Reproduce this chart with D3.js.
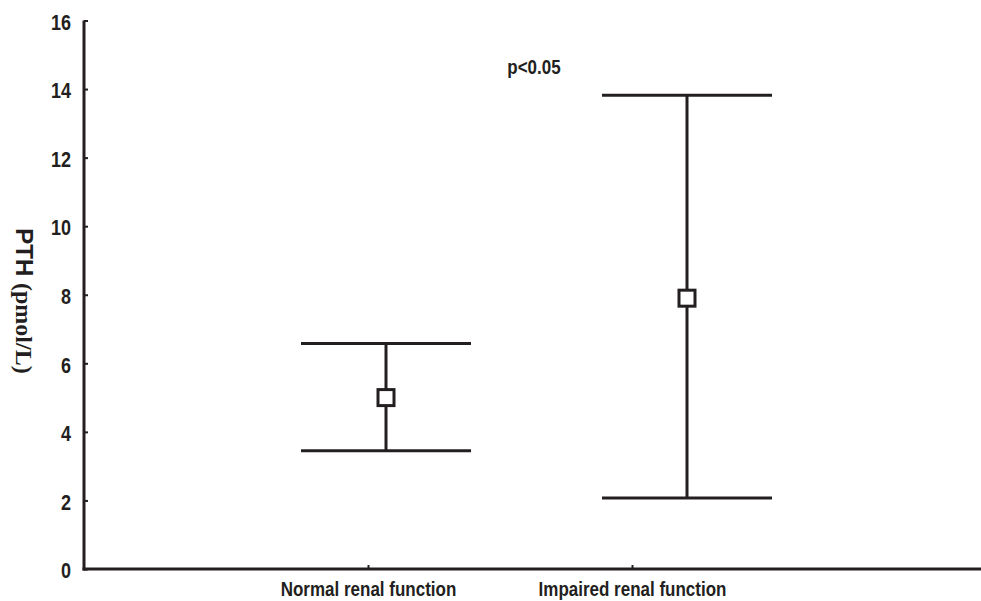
<!DOCTYPE html>
<html>
<head>
<meta charset="utf-8">
<script src="https://cdn.jsdelivr.net/npm/d3@7"></script>
<style>
  body { margin: 0; background: #fff; }
  svg { display: block; }
  text { font-family: "Liberation Sans", Arial, sans-serif; font-weight: bold; fill: #231f20; }
</style>
</head>
<body>
<svg id="chart" width="981" height="601"></svg>
<script>
// data
const categories = ["Normal renal function", "Impaired renal function"];
const means = [5.0, 7.9];
const upper = [6.58, 13.82];
const lower = [3.45, 2.07];
const yTicks = [0, 2, 4, 6, 8, 10, 12, 14, 16];
const pLabel = "p<0.05";

const ink = "#231f20";
const svg = d3.select("#chart");

const y = d3.scaleLinear().domain([0, 16]).range([569, 20.5]);
// category ticks and the error bars sit at slightly different spots in the original
const xTick = d3.scalePoint().domain(categories).range([368, 632]);
const xBar = d3.scalePoint().domain(categories).range([386, 687]);
const capHalf = 85;

const rows = categories.map((c, i) => ({ cat: c, mean: means[i], hi: upper[i], lo: lower[i] }));

// the original lettering is a bit taller than it is wide
const stretch = "scale(1,1.18)";

// y axis
const yAxis = svg.append("g")
  .attr("transform", "translate(84,0)")
  .call(d3.axisLeft(y).tickValues(yTicks).tickSizeInner(-4).tickSizeOuter(0).tickPadding(13));
yAxis.select(".domain").attr("stroke", ink).attr("stroke-width", 3)
  .attr("d", `M0,${y(16)}V${y(0) + 1.5}`);
yAxis.selectAll(".tick line").attr("stroke", ink).attr("stroke-width", 2);
yAxis.selectAll(".tick text")
  .attr("dy", "0.41em")
  .attr("transform", stretch)
  .style("font-size", "18px").style("font-family", "Liberation Sans, Arial, sans-serif")
  .style("font-weight", "bold").attr("fill", ink);

// x axis
const xAxis = svg.append("g")
  .attr("transform", `translate(0,${y(0)})`)
  .call(d3.axisBottom(xTick).tickSizeInner(-4).tickSizeOuter(0).tickPadding(11));
xAxis.select(".domain").attr("stroke", ink).attr("stroke-width", 3)
  .attr("d", "M82.5,0H981");
xAxis.selectAll(".tick line").attr("stroke", ink).attr("stroke-width", 2);
xAxis.selectAll(".tick text")
  .attr("transform", stretch)
  .style("font-size", "17px").style("font-family", "Liberation Sans, Arial, sans-serif")
  .style("font-weight", "bold").attr("fill", ink);

// error bars
const bars = svg.append("g").selectAll("g").data(rows).join("g");
bars.append("line")
  .attr("x1", d => xBar(d.cat)).attr("x2", d => xBar(d.cat))
  .attr("y1", d => y(d.hi)).attr("y2", d => y(d.lo))
  .attr("stroke", ink).attr("stroke-width", 3);
bars.append("line")
  .attr("x1", d => xBar(d.cat) - capHalf).attr("x2", d => xBar(d.cat) + capHalf)
  .attr("y1", d => y(d.hi)).attr("y2", d => y(d.hi))
  .attr("stroke", ink).attr("stroke-width", 3);
bars.append("line")
  .attr("x1", d => xBar(d.cat) - capHalf).attr("x2", d => xBar(d.cat) + capHalf)
  .attr("y1", d => y(d.lo)).attr("y2", d => y(d.lo))
  .attr("stroke", ink).attr("stroke-width", 3);
bars.append("rect")
  .attr("x", d => xBar(d.cat) - 8).attr("y", d => y(d.mean) - 8)
  .attr("width", 16).attr("height", 16)
  .attr("fill", "#fff").attr("stroke", ink).attr("stroke-width", 3);

// significance note
svg.append("text")
  .attr("transform", "translate(534,74) " + stretch)
  .attr("text-anchor", "middle")
  .style("font-size", "17px")
  .text(pLabel);

// y axis title, reads top to bottom
const yTitle = svg.append("text")
  .attr("transform", "translate(16,301) rotate(90)")
  .attr("text-anchor", "middle")
  .style("font-size", "24px");
yTitle.append("tspan").text("PTH ");
yTitle.append("tspan").style("font-family", "Liberation Serif, Times New Roman, serif").text("(pmol/L)");
</script>
</body>
</html>
